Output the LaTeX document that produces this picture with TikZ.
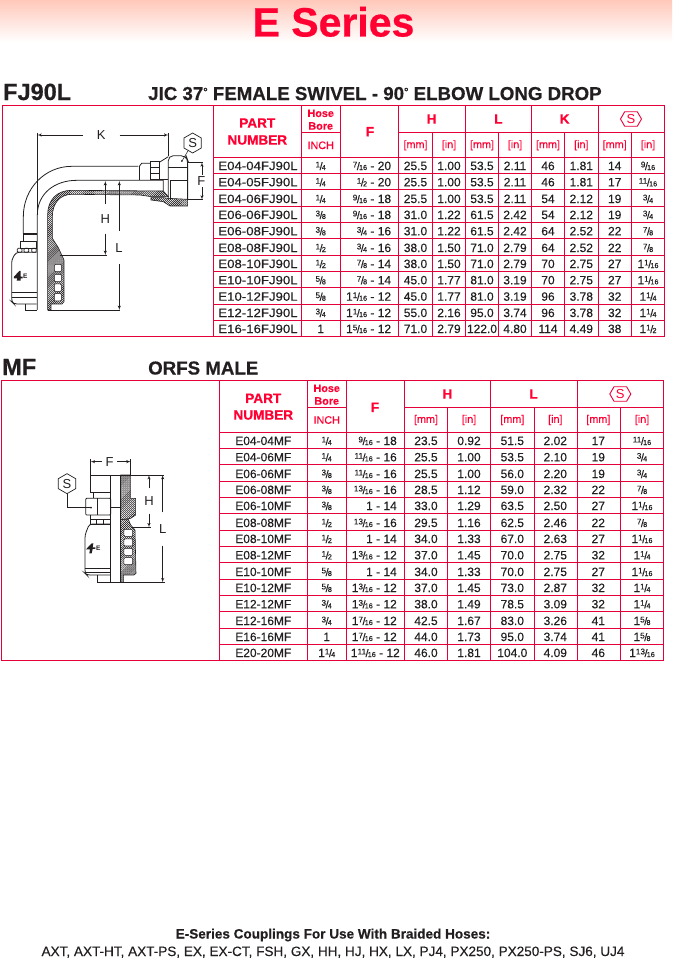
\documentclass[tikz,border=0pt]{standalone}
\usepackage{fontspec}
\setmainfont{Liberation Sans}
\newfontfamily\medfont{Liberation Sans}[FakeBold=0.3]
\newfontfamily\heavyfont{Liberation Sans}[FakeBold=0.5]
\usetikzlibrary{positioning,arrows,calc,shapes,patterns.meta}
\definecolor{brandred}{HTML}{FF0033}
\definecolor{gridred}{HTML}{E6003A}
\definecolor{inkblack}{HTML}{231F20}
\definecolor{fadepink}{RGB}{255,200,186}
\newcommand{\frc}[2]{\raisebox{2.6pt}{\fontsize{8.2}{9}\selectfont #1}\kern-.5pt{\fontsize{11}{11}\selectfont /}\kern-.8pt{\fontsize{7.2}{8}\selectfont #2}}
\newcommand{\degmark}{\raisebox{4.5pt}{\fontsize{11}{11}\selectfont °}}
\tikzset{
    tablegrid/.style = {
        draw=gridred,
        line width=0.9pt
    },
    rowcell/.style = {
        anchor=base,
        inner sep=0pt,
        text=inkblack,
        font=\medfont\fontsize{12}{14}\selectfont
    },
    longpart/.style = {
        rowcell,
        xscale=1.1
    },
    threadcell/.style = {
        rowcell,
        anchor=base east
    },
    headcell/.style = {
        inner sep=0pt,
        text=brandred,
        font=\heavyfont\bfseries\fontsize{13.6}{15}\selectfont
    },
    smallhead/.style = {
        inner sep=0pt,
        text=brandred,
        font=\medfont\bfseries\fontsize{10.8}{12}\selectfont
    },
    unitcell/.style = {
        inner sep=0pt,
        text=brandred,
        font=\medfont\fontsize{10.8}{12}\selectfont
    },
    redhex/.style = {
        draw=gridred,
        shape=signal,
        signal to=east and west,
        signal pointer angle=120,
        line width=0.9pt,
        inner sep=0pt,
        minimum width=21pt,
        minimum height=14.5pt,
        text=brandred,
        font=\fontsize{13}{14}\selectfont
    },
    hexmark/.style = {
        draw=inkblack,
        shape=regular polygon,
        regular polygon sides=6,
        shape border rotate=30,
        line width=0.7pt,
        inner sep=0pt,
        minimum size=20pt,
        text=inkblack,
        font=\fontsize{13}{14}\selectfont
    },
    seriesname/.style = {
        anchor=base west,
        inner sep=0pt,
        text=inkblack,
        font=\heavyfont\bfseries\fontsize{23.5}{26}\selectfont
    },
    seriestitle/.style = {
        anchor=base west,
        inner sep=0pt,
        text=inkblack,
        font=\heavyfont\bfseries\fontsize{18.7}{20}\selectfont
    },
    footnote/.style = {
        anchor=base,
        inner sep=0pt,
        text=inkblack,
        font=\medfont\fontsize{13.55}{15}\selectfont
    },
    dimlabel/.style = {
        inner sep=0pt,
        text=inkblack,
        font=\fontsize{13}{14}\selectfont
    },
    dimline/.style = {
        draw=inkblack,
        line width=0.5pt,
        ->
    },
    thin edge/.style = {
        draw=inkblack,
        line width=0.5pt
    },
    edge/.style = {
        draw=inkblack,
        line width=0.8pt
    },
    heavy/.style = {
        draw=inkblack,
        line width=1.6pt
    },
    hatched/.style = {
        draw=inkblack,
        line width=0.6pt,
        pattern={Lines[angle=45,distance=1.4pt,line width=0.6pt]},
        pattern color=inkblack
    },
    >=latex',
}
\begin{document}
\begin{tikzpicture}[x=1pt,y=-1pt]
    \useasboundingbox (0,0) rectangle (672,958);
    \shade[top color=fadepink,bottom color=white] (0,0) rectangle (672,42);
    \node[anchor=base,inner sep=0pt,text=brandred,font=\heavyfont\bfseries\fontsize{41}{44}\selectfont] (maintitle) at (333.5,36.5) {E Series};

    \node[seriesname] (fjname) at (3,100) {FJ90L};
    \node[seriestitle] (fjtitle) at (148,100) {JIC 37\degmark{} FEMALE SWIVEL - 90\degmark{} ELBOW LONG DROP};
    \node[seriesname] (mfname) at (2,375) {MF};
    \node[seriestitle] (mftitle) at (148,374.5) {ORFS MALE};

    \draw[tablegrid] (2.5,105.5) rectangle (664.3,336);
    \foreach \y in {157.3,173.3,189.7,206.3,222.3,238.7,255.3,271.3,287.7,304,320.3}
        \draw[tablegrid] (213,\y) -- (664.3,\y);
    \foreach \x in {213,301.7,340,398.7,465.7,531.7,598.7}
        \draw[tablegrid] (\x,105.5) -- (\x,336);
    \foreach \x in {432.3,498.3,564.7,631.7}
        \draw[tablegrid] (\x,132.3) -- (\x,336);
    \draw[tablegrid] (301.7,132.3) -- (340,132.3);
    \draw[tablegrid] (398.7,132.3) -- (664.3,132.3);

    \node[headcell] (fjpart) at (257.3,123) {PART};
    \node[headcell] (fjnumber) at (257.3,140) {NUMBER};
    \node[smallhead] (fjhose) at (320.7,113.3) {Hose};
    \node[smallhead] (fjbore) at (320.7,126) {Bore};
    \node[unitcell] (fjinch) at (320.7,145.3) {INCH};
    \node[headcell] (fjf) at (370,131.7) {F};
    \node[headcell] (fjh) at (431.7,119) {H};
    \node[headcell] (fjl) at (498.3,119) {L};
    \node[headcell] (fjk) at (564.7,119) {K};
    \node[redhex] (fjs) at (631,119) {S};
    \foreach \x/\unit/\tag in {415.5/[mm]/a,449/[in]/b,482/[mm]/c,515/[in]/d,548/[mm]/e,581.3/[in]/f,614.7/[mm]/g,648/[in]/h}
        \node[unitcell] (fjunit\tag) at (\x,145.3) {\unit};

    \foreach \y/\pn/\bore/\thrd/\hm/\hi/\lm/\li/\km/\ki/\sm/\si in {
        170/E04-04FJ90L/\frc{1}{4}/\frc{7}{16} - 20/25.5/1.00/53.5/2.11/46/1.81/14/\frc{9}{16},
        186.3/E04-05FJ90L/\frc{1}{4}/\frc{1}{2} - 20/25.5/1.00/53.5/2.11/46/1.81/17/\frc{11}{16},
        203/E04-06FJ90L/\frc{1}{4}/\frc{9}{16} - 18/25.5/1.00/53.5/2.11/54/2.12/19/\frc{3}{4},
        219/E06-06FJ90L/\frc{3}{8}/\frc{9}{16} - 18/31.0/1.22/61.5/2.42/54/2.12/19/\frc{3}{4},
        235.3/E06-08FJ90L/\frc{3}{8}/\frc{3}{4} - 16/31.0/1.22/61.5/2.42/64/2.52/22/\frc{7}{8},
        252/E08-08FJ90L/\frc{1}{2}/\frc{3}{4} - 16/38.0/1.50/71.0/2.79/64/2.52/22/\frc{7}{8},
        268/E08-10FJ90L/\frc{1}{2}/\frc{7}{8} - 14/38.0/1.50/71.0/2.79/70/2.75/27/1\frc{1}{16},
        284.3/E10-10FJ90L/\frc{5}{8}/\frc{7}{8} - 14/45.0/1.77/81.0/3.19/70/2.75/27/1\frc{1}{16},
        300.7/E10-12FJ90L/\frc{5}{8}/1\frc{1}{16} - 12/45.0/1.77/81.0/3.19/96/3.78/32/1\frc{1}{4},
        317/E12-12FJ90L/\frc{3}{4}/1\frc{1}{16} - 12/55.0/2.16/95.0/3.74/96/3.78/32/1\frc{1}{4},
        333/E16-16FJ90L/1/1\frc{5}{16} - 12/71.0/2.79/122.0/4.80/114/4.49/38/1\frc{1}{2}}
    {
        \node[longpart] (pn-\pn) at (258,\y) {\pn};
        \node[rowcell] (bore-\pn) at (320.7,\y) {\bore};
        \node[threadcell] (thrd-\pn) at (391.3,\y) {\thrd};
        \node[rowcell] (hm-\pn) at (415.5,\y) {\hm};
        \node[rowcell] (hi-\pn) at (449,\y) {\hi};
        \node[rowcell] (lm-\pn) at (482,\y) {\lm};
        \node[rowcell] (li-\pn) at (515,\y) {\li};
        \node[rowcell] (km-\pn) at (548,\y) {\km};
        \node[rowcell] (ki-\pn) at (581.3,\y) {\ki};
        \node[rowcell] (sm-\pn) at (614.7,\y) {\sm};
        \node[rowcell] (si-\pn) at (648,\y) {\si};
    }

    \draw[tablegrid] (1.7,380.3) rectangle (663.3,660.3);
    \foreach \y in {432.3,448.3,464.7,481.3,497.3,513.3,530.3,546.3,562.7,579.3,595.3,611.7,628.3,644.3}
        \draw[tablegrid] (219.3,\y) -- (663.3,\y);
    \foreach \x in {219.3,307.3,346.3,404.3,490.3,577.3}
        \draw[tablegrid] (\x,380.3) -- (\x,660.3);
    \foreach \x in {447.3,534,620.3}
        \draw[tablegrid] (\x,407.3) -- (\x,660.3);
    \draw[tablegrid] (307.3,407.3) -- (346.3,407.3);
    \draw[tablegrid] (404.3,407.3) -- (663.3,407.3);

    \node[headcell] (mfpart) at (263.3,398.3) {PART};
    \node[headcell] (mfnumber) at (263.3,415) {NUMBER};
    \node[smallhead] (mfhose) at (326.7,388.3) {Hose};
    \node[smallhead] (mfbore) at (326.7,401) {Bore};
    \node[unitcell] (mfinch) at (326.7,420) {INCH};
    \node[headcell] (mff) at (375,407.3) {F};
    \node[headcell] (mfh) at (447.3,394) {H};
    \node[headcell] (mfl) at (533.5,394) {L};
    \node[redhex] (mfs) at (620.3,394) {S};
    \foreach \x/\unit/\tag in {426/[mm]/a,469/[in]/b,512.3/[mm]/c,555.3/[in]/d,598.3/[mm]/e,642/[in]/f}
        \node[unitcell] (mfunit\tag) at (\x,420) {\unit};

    \foreach \y/\pn/\bore/\thrd/\hm/\hi/\lm/\li/\sm/\si in {
        445/E04-04MF/\frc{1}{4}/\frc{9}{16} - 18/23.5/0.92/51.5/2.02/17/\frc{11}{16},
        461.3/E04-06MF/\frc{1}{4}/\frc{11}{16} - 16/25.5/1.00/53.5/2.10/19/\frc{3}{4},
        478/E06-06MF/\frc{3}{8}/\frc{11}{16} - 16/25.5/1.00/56.0/2.20/19/\frc{3}{4},
        494/E06-08MF/\frc{3}{8}/\frc{13}{16} - 16/28.5/1.12/59.0/2.32/22/\frc{7}{8},
        510/E06-10MF/\frc{3}{8}/1 - 14/33.0/1.29/63.5/2.50/27/1\frc{1}{16},
        527/E08-08MF/\frc{1}{2}/\frc{13}{16} - 16/29.5/1.16/62.5/2.46/22/\frc{7}{8},
        543/E08-10MF/\frc{1}{2}/1 - 14/34.0/1.33/67.0/2.63/27/1\frc{1}{16},
        559.3/E08-12MF/\frc{1}{2}/1\frc{3}{16} - 12/37.0/1.45/70.0/2.75/32/1\frc{1}{4},
        576/E10-10MF/\frc{5}{8}/1 - 14/34.0/1.33/70.0/2.75/27/1\frc{1}{16},
        592/E10-12MF/\frc{5}{8}/1\frc{3}{16} - 12/37.0/1.45/73.0/2.87/32/1\frc{1}{4},
        608.3/E12-12MF/\frc{3}{4}/1\frc{3}{16} - 12/38.0/1.49/78.5/3.09/32/1\frc{1}{4},
        625/E12-16MF/\frc{3}{4}/1\frc{7}{16} - 12/42.5/1.67/83.0/3.26/41/1\frc{5}{8},
        641/E16-16MF/1/1\frc{7}{16} - 12/44.0/1.73/95.0/3.74/41/1\frc{5}{8},
        657/E20-20MF/1\frc{1}{4}/1\frc{11}{16} - 12\kern-3pt/46.0/1.81/104.0/4.09/46/1\frc{13}{16}}
    {
        \node[rowcell] (pn-\pn) at (263.3,\y) {\pn};
        \node[rowcell] (bore-\pn) at (326.7,\y) {\bore};
        \node[threadcell] (thrd-\pn) at (397,\y) {\thrd};
        \node[rowcell] (hm-\pn) at (426,\y) {\hm};
        \node[rowcell] (hi-\pn) at (469,\y) {\hi};
        \node[rowcell] (lm-\pn) at (512.3,\y) {\lm};
        \node[rowcell] (li-\pn) at (555.3,\y) {\li};
        \node[rowcell] (sm-\pn) at (598.3,\y) {\sm};
        \node[rowcell] (si-\pn) at (642,\y) {\si};
    }

    \begin{scope}[shift={(0,105)},x=0.3333pt,y=-0.3333pt]
        \draw[hatched] (143,615) -- (143,330) .. controls (143,285) and (170,256) .. (215,256) -- (490,258) -- (505,275) -- (453,275) -- (420,270) -- (215,268) .. controls (180,268) and (157,295) .. (157,335) -- (157,400) -- (175,428) -- (192,465) -- (192,590) -- (186,597) -- (153,597) -- (153,615) -- cycle;
        \foreach \t in {478,508,537,566}
            \draw[thin edge,fill=white,rounded corners=1pt] (163,\t) rectangle (184,\t+22);
        \draw[hatched] (453,278) -- (490,278) -- (505,280) -- (563,283) -- (563,303) -- (510,303) -- (490,290) -- (453,285) -- cycle;
        \draw[edge] (112,615) -- (112,330) .. controls (112,265) and (165,226) .. (230,226) -- (490,226) -- (490,258);
        \draw[edge] (70,385) -- (70,335) .. controls (70,250) and (135,184) .. (215,184) -- (415,184);
        \draw[edge] (418,184) -- (418,226);
        \draw[edge] (418,184) -- (425,175) -- (452,175) -- (452,222);
        \draw[edge,fill=white] (452,168) rectangle (478,222);
        \draw[edge] (452,188) -- (478,188);
        \draw[edge] (452,205) -- (478,205);
        \draw[edge] (478,172) -- (505,155);
        \draw[edge,rounded corners=5pt] (505,284) -- (505,152) -- (558,152) -- (563,165) -- (563,284);
        \draw[edge] (510,226) -- (563,226);
        \draw[edge] (510,226) -- (510,284);
        \draw[edge] (505,186) -- (563,186);
        \draw[edge] (478,222) -- (505,222);
        \draw[edge] (62,408) rectangle (110,430);
        \draw[heavy] (70,387) -- (110,387);
        \draw[edge] (70,385) -- (70,408);
        \foreach \t in {52,72,95}
            \draw[edge,rounded corners=1pt] (\t,430) rectangle (\t+14,442);
        \draw[edge,rounded corners=3pt] (110,442) -- (48,442) -- (35,465) -- (35,590) -- (42,597) -- (110,597);
        \draw[thin edge] (35,562) -- (110,562);
        \draw[heavy] (35,578) -- (110,578);
        \draw[edge] (75,597) -- (75,615) -- (112,615);
        \fill[inkblack] (42,515) -- (58,498) -- (62,498) -- (62,515) -- (68,515) -- (68,520) -- (62,520) -- (62,527) -- (50,527) -- (52,520) -- (42,520) -- cycle;
        \node[inner sep=0pt,text=inkblack,font=\bfseries\fontsize{6.5}{7}\selectfont] (fjlogo) at (76,513) {E};
        \draw[thin edge] (143,615) -- (360,615);

        \node[hexmark] (fjhex) at (578,114) {S};
        \coordinate (fjdot) at (546,168);
        \fill[inkblack] (fjdot) circle (1pt);
        \draw[thin edge] (fjhex) -- (fjdot);

        \node[dimlabel,minimum width=36pt] (dimk) at (304,90) {K};
        \coordinate (kleft) at (112,90);
        \coordinate (kright) at (505,90);
        \draw[dimline] (dimk) -- (kleft);
        \draw[dimline] (dimk) -- (kright);
        \draw[thin edge] (112,84) -- (112,330);
        \draw[thin edge] (505,84) -- (505,152);

        \node[dimlabel,minimum height=12pt] (dimf) at (604,228) {F};
        \coordinate (ftop) at (606,172);
        \coordinate (fbot) at (606,284);
        \draw[dimline] (dimf.north -| ftop) -- (ftop);
        \draw[dimline] (dimf.south -| fbot) -- (fbot);
        \draw[thin edge] (563,172) -- (610,172);
        \draw[thin edge] (563,284) -- (610,284);

        \node[dimlabel,minimum height=29pt] (dimh) at (316,342) {H};
        \coordinate (htop) at (316,228);
        \coordinate (hbot) at (316,450);
        \draw[dimline] (dimh) -- (htop);
        \draw[dimline] (dimh) -- (hbot);
        \draw[thin edge] (180,450) -- (320,450);

        \node[dimlabel,minimum height=33pt] (diml) at (357,428) {L};
        \coordinate (ltop) at (358,228);
        \coordinate (lbot) at (358,615);
        \draw[dimline] (diml.north -| ltop) -- (ltop);
        \draw[dimline] (diml.south -| lbot) -- (lbot);
    \end{scope}

    \begin{scope}[shift={(40,440)},x=0.3333pt,y=-0.3333pt]
        \draw[hatched] (242,105) -- (272,105) -- (272,175) -- (287,175) -- (287,225) -- (272,235) -- (250,238) -- (242,238) -- cycle;
        \draw[hatched] (242,238) -- (265,238) -- (272,255) -- (285,270) -- (288,400) -- (282,405) -- (250,405) -- (250,427) -- (242,427) -- cycle;
        \foreach \t in {268,297,325,353}
            \draw[thin edge,fill=white,rounded corners=1pt] (252,\t) rectangle (278,\t+21);
        \draw[edge] (212,105) -- (212,427) -- (242,427);
        \draw[edge] (242,105) -- (242,427);
        \draw[edge] (152,105) -- (152,160);
        \draw[edge] (152,105) -- (272,105);
        \draw[heavy] (152,158) -- (212,158);
        \draw[edge] (160,160) -- (160,175);
        \draw[edge,rounded corners=1pt] (137,175) rectangle (212,225);
        \draw[edge] (172,175) -- (172,225);
        \draw[edge] (152,238) rectangle (212,252);
        \draw[edge] (168,238) -- (168,252);
        \draw[edge] (190,238) -- (190,252);
        \draw[edge] (152,225) -- (152,238);
        \draw[edge,rounded corners=3pt] (212,252) -- (148,252) -- (135,285) -- (135,400) -- (140,405) -- (212,405);
        \draw[heavy] (135,386) -- (212,386);
        \draw[edge] (135,396) -- (212,396);
        \draw[edge] (172,405) -- (172,427) -- (212,427);
        \fill[inkblack] (138,328) -- (155,310) -- (160,310) -- (158,322) -- (166,322) -- (166,327) -- (158,327) -- (155,340) -- (148,340) -- (150,328) -- cycle;
        \node[inner sep=0pt,text=inkblack,font=\bfseries\fontsize{6.5}{7}\selectfont] (mflogo) at (175,325) {E};
        \draw[thin edge] (242,427) -- (375,427);

        \node[hexmark] (mfhex) at (81,131) {S};
        \coordinate (mfdot) at (153,203);
        \fill[inkblack] (mfdot) circle (1pt);
        \draw[thin edge] (mfhex) |- (mfdot);
        \draw[thin edge] (212,203) -- (242,203);

        \node[dimlabel,minimum width=15pt] (dimfm) at (209,65) {F};
        \coordinate (fmleft) at (152,65);
        \coordinate (fmright) at (272,65);
        \draw[dimline] (dimfm) -- (fmleft);
        \draw[dimline] (dimfm) -- (fmright);
        \draw[thin edge] (152,58) -- (152,105);
        \draw[thin edge] (272,58) -- (272,105);
        \draw[thin edge] (272,105) -- (372,105);

        \node[dimlabel,minimum height=25pt] (dimhm) at (327,183) {H};
        \coordinate (hmtop) at (327,105);
        \coordinate (hmbot) at (327,262);
        \draw[dimline] (dimhm) -- (hmtop);
        \draw[dimline] (dimhm) -- (hmbot);
        \draw[thin edge] (272,262) -- (332,262);

        \node[dimlabel,minimum height=33pt] (dimlm) at (368,267) {L};
        \coordinate (lmtop) at (368,105);
        \coordinate (lmbot) at (368,427);
        \draw[dimline] (dimlm) -- (lmtop);
        \draw[dimline] (dimlm) -- (lmbot);
    \end{scope}

    \node[footnote,font=\heavyfont\bfseries\fontsize{13.55}{15}\selectfont] (footone) at (333,938.5) {E-Series Couplings For Use With Braided Hoses:};
    \node[footnote] (foottwo) at (333,956) {AXT, AXT-HT, AXT-PS, EX, EX-CT, FSH, GX, HH, HJ, HX, LX, PJ4, PX250, PX250-PS, SJ6, UJ4};
\end{tikzpicture}
\end{document}
